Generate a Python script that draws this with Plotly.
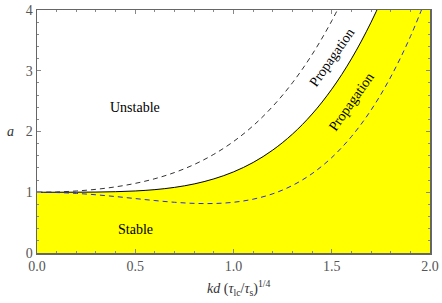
import plotly.graph_objects as go

# kd (tau_lc/tau_s)^(1/4) sample points
kd = [0.0, 0.1, 0.2, 0.3, 0.4, 0.5, 0.6, 0.7, 0.8, 0.9, 1.0,
      1.1, 1.2, 1.3, 1.4, 1.5, 1.6, 1.7, 1.8, 1.9, 2.0]

# solid boundary (stable / unstable)
a_solid = [1.000, 1.000, 1.001, 1.003, 1.009, 1.021, 1.043, 1.080, 1.137, 1.220, 1.335,
           1.490, 1.695, 1.957, 2.287, 2.696, 3.195, 3.798, 4.517, 5.37, 6.36]

# upper black dashed curve
a_upper = [1.000, 1.005, 1.021, 1.048, 1.089, 1.146, 1.223, 1.325, 1.457, 1.625, 1.835,
           2.095, 2.415, 2.802, 3.267, 3.821, 4.475]

# lower blue dashed curve
a_lower = [1.000, 0.995, 0.981, 0.958, 0.929, 0.896, 0.863, 0.835, 0.817, 0.815, 0.835,
           0.886, 0.975, 1.112, 1.307, 1.571, 1.916, 2.353, 2.897, 3.561, 4.36]

x_ticks = [0.0, 0.5, 1.0, 1.5, 2.0]
x_ticklabels = ["0.0", "0.5", "1.0", "1.5", "2.0"]
y_ticks = [0, 1, 2, 3, 4]
y_ticklabels = ["0", "1", "2", "3", "4"]

labels = [
    dict(text="Unstable", x=0.5, y=2.40, angle=0),
    dict(text="Stable", x=0.5, y=0.39, angle=0),
    dict(text="Propagation", x=1.50, y=3.22, angle=-55),
    dict(text="Propagation", x=1.60, y=2.50, angle=-55),
]

FONT = "Liberation Serif"

fig = go.Figure()
fig.add_trace(go.Scatter(
    x=kd, y=a_solid, mode="lines", line=dict(color="black", width=1, shape="spline"),
    fill="tozeroy", fillcolor="#ffff00", hoverinfo="skip"))
fig.add_trace(go.Scatter(
    x=kd[:len(a_upper)], y=a_upper, mode="lines",
    line=dict(color="#333333", width=1, dash="5px,4px", shape="spline"), hoverinfo="skip"))
fig.add_trace(go.Scatter(
    x=kd, y=a_lower, mode="lines",
    line=dict(color="#2a2ae0", width=1, dash="5px,4px", shape="spline"), hoverinfo="skip"))

for lb in labels:
    fig.add_annotation(x=lb["x"], y=lb["y"], text=lb["text"], textangle=lb["angle"],
                       showarrow=False, font=dict(family=FONT, size=14, color="black"))

# axis titles
fig.add_annotation(xref="paper", yref="paper", x=0.515, y=-0.095, yanchor="top",
                   text="<i>kd</i> (<i>τ</i><sub>lc</sub>/<i>τ</i><sub>s</sub>)<sup>1/4</sup>",
                   showarrow=False, font=dict(family=FONT, size=14, color="#333333"))
fig.add_annotation(xref="paper", yref="paper", x=-0.068, y=0.5, xanchor="center",
                   text="<i>a</i>", showarrow=False,
                   font=dict(family=FONT, size=14, color="#333333"))

axis_common = dict(
    showgrid=False, zeroline=False, showline=True, linecolor="#666666", linewidth=1.5,
    mirror="allticks", ticks="inside", ticklen=4, tickcolor="#888888", tickwidth=1,
    tickfont=dict(family=FONT, size=14, color="#555555"), automargin=False,
)

fig.update_xaxes(range=[0, 2.0], tickvals=x_ticks, ticktext=x_ticklabels,
                 minor=dict(tickvals=[i / 10 for i in range(21)], ticks="inside", ticklen=2,
                            tickcolor="#888888"),
                 **axis_common)
fig.update_yaxes(range=[0, 4], tickvals=y_ticks, ticktext=y_ticklabels,
                 minor=dict(tickvals=[i / 5 for i in range(21)], ticks="inside", ticklen=2,
                            tickcolor="#888888"),
                 **axis_common)

fig.update_layout(
    width=442, height=303, showlegend=False,
    margin=dict(l=37, r=12, t=10, b=50, autoexpand=False),
    plot_bgcolor="white", paper_bgcolor="white",
)

fig.write_html("out.html", config={"displayModeBar": False, "staticPlot": True},
               post_script="document.body.style.margin='0';document.body.style.overflow='hidden';")
